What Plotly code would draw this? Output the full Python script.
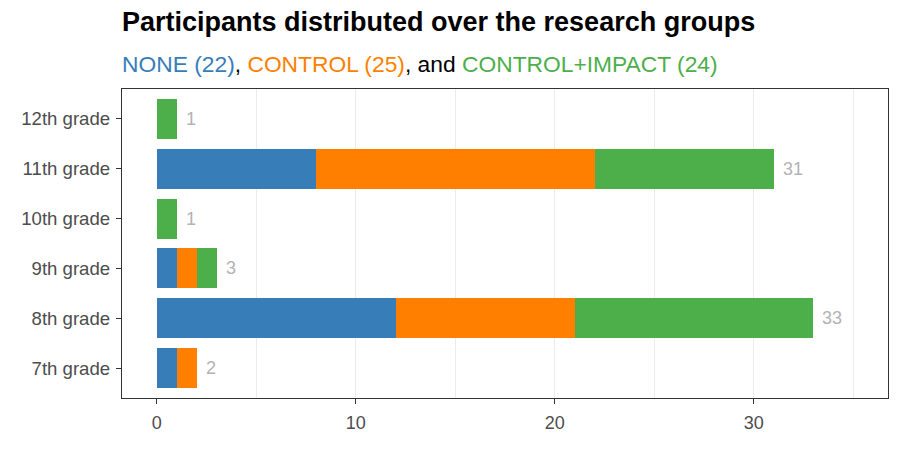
import plotly.graph_objects as go

grades = ["7th grade", "8th grade", "9th grade", "10th grade", "11th grade", "12th grade"]
none_vals = [1, 12, 1, 0, 8, 0]
control_vals = [1, 9, 1, 0, 14, 0]
ci_vals = [0, 12, 1, 1, 9, 1]
totals = [a + b + c for a, b, c in zip(none_vals, control_vals, ci_vals)]

c_none = "#377EB8"
c_control = "#FF7F00"
c_ci = "#4DAF4A"
font = "Liberation Sans, Arial, sans-serif"

fig = go.Figure()
for name, vals, col in [("NONE", none_vals, c_none), ("CONTROL", control_vals, c_control),
                        ("CONTROL+IMPACT", ci_vals, c_ci)]:
    fig.add_trace(go.Bar(y=grades, x=vals, orientation="h", name=name,
                         marker=dict(color=col, line=dict(width=0)), width=0.8,
                         showlegend=False, hoverinfo="x+y+name"))

for g, t in zip(grades, totals):
    fig.add_annotation(x=t, y=g, text=str(t), xref="x", yref="y", xanchor="left",
                       yanchor="middle", xshift=7, showarrow=False,
                       font=dict(family=font, size=18, color="#B3B3B3"))

fig.add_annotation(xref="paper", yref="paper", x=0, y=1 + 50 / 309, xanchor="left",
                   yanchor="bottom", showarrow=False, xshift=-2,
                   text="<b>Participants distributed over the research groups</b>",
                   font=dict(family=font, size=27, color="black"))
sub = (f"<span style='color:{c_none}'>NONE (22)</span>, "
       f"<span style='color:{c_control}'>CONTROL (25)</span>, and "
       f"<span style='color:{c_ci}'>CONTROL+IMPACT (24)</span>")
fig.add_annotation(xref="paper", yref="paper", x=0, y=1 + 10 / 309, xanchor="left",
                   yanchor="bottom", showarrow=False, xshift=-2, text=sub,
                   font=dict(family=font, size=22.8, color="black"))

fig.update_layout(
    barmode="stack",
    width=900, height=450,
    margin=dict(l=122, r=12, t=89, b=52),
    plot_bgcolor="white", paper_bgcolor="white",
    font=dict(family=font),
    xaxis=dict(range=[-1.75, 36.75], tickvals=[0, 10, 20, 30], showgrid=False,
               zeroline=False, showline=True, mirror=True, linecolor="#333333", linewidth=1.3,
               ticks="outside", ticklen=5, tickcolor="#333333", tickwidth=1.2,
               ticklabelstandoff=3,
               tickfont=dict(size=18, color="#4D4D4D", family=font),
               minor=dict(tickvals=[5, 10, 15, 20, 25, 30, 35], showgrid=True,
                          gridcolor="#EBEBEB", gridwidth=1, ticks="")),
    yaxis=dict(type="category", categoryorder="array", categoryarray=grades,
               range=[-0.6, 5.6], showgrid=False, zeroline=False, showline=True, mirror=True,
               linecolor="#333333", linewidth=1.3, ticks="outside", ticklen=5,
               tickcolor="#333333", tickwidth=1.2, ticklabelstandoff=2,
               tickfont=dict(size=18.6, color="#4D4D4D", family=font)),
)

fig.write_html("out.html")
